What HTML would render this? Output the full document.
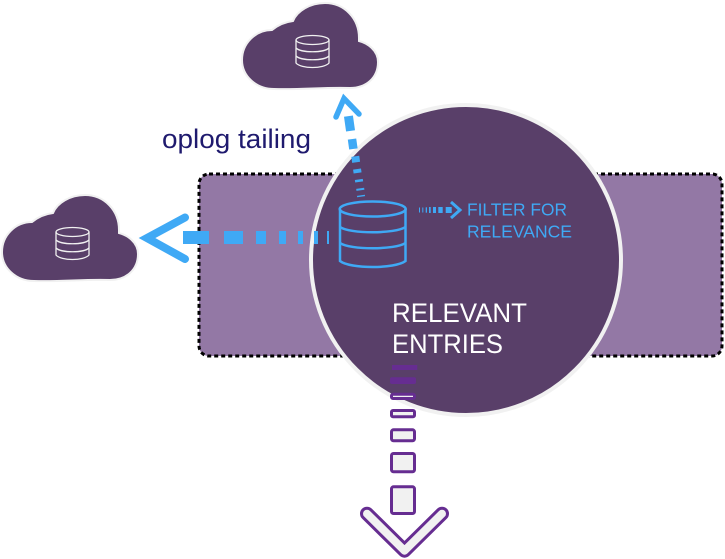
<!DOCTYPE html>
<html><head><meta charset="utf-8"><style>html,body{margin:0;padding:0;background:#fff}svg{display:block}text{font-family:"Liberation Sans",sans-serif}</style></head><body>
<svg width="725" height="559" viewBox="0 0 725 559" xmlns="http://www.w3.org/2000/svg">
<defs>
<g id="cloud">
<path d="M274,89 C256,89 242,76 242,60 C242,43.4 255.4,30 272,30 C278,25 285,22 293,21 C297,11 310,3 325,3 C344,3 359,18 359,38 L359,41 C367,43 378,50 378,62 C378,78 366,88 350,88 C325,87 300,90 274,89 Z" fill="#593f69" stroke="#f1f1f1" stroke-width="2"/>
<g fill="none" stroke="#f1f1f1" stroke-width="1.3">
<ellipse cx="312.5" cy="40" rx="16.5" ry="4.5"/>
<path d="M296,40 V63 C301,69 324,69 329,63 V40"/>
<path d="M296,48 C301,53 324,53 329,48"/>
<path d="M296,56 C301,61 324,61 329,56"/>
</g>
</g>
</defs>
<rect x="199" y="174" width="523" height="182" rx="10" fill="#9378a5" stroke="#000" stroke-width="3" stroke-dasharray="4 3"/>
<circle cx="466" cy="260" r="155" fill="#593f69" stroke="#f1f1f1" stroke-width="4"/>
<use href="#cloud"/>
<use href="#cloud" x="-240" y="192"/>
<text x="162" y="148" font-size="27" fill="#1f1a6e" textLength="149" lengthAdjust="spacingAndGlyphs">oplog tailing</text>
<g fill="#3fa9f5">
<rect x="183" y="231" width="26" height="13"/>
<rect x="224" y="231" width="19" height="13"/>
<rect x="256" y="231" width="10" height="13"/>
<rect x="279" y="231" width="7" height="13"/>
<rect x="298" y="231" width="5" height="13"/>
<rect x="314" y="231" width="4" height="13"/>
<rect x="327" y="231" width="2" height="13"/>
<rect x="-4.5" y="-7.5" width="9" height="15" transform="translate(349.5 123.5) rotate(-8)"/>
<rect x="-4.25" y="-5" width="8.5" height="10" transform="translate(352.7 144) rotate(-8)"/>
<rect x="-4" y="-3" width="8" height="6" transform="translate(355.7 159.3) rotate(-8)"/>
<rect x="-4" y="-2" width="8" height="4" transform="translate(357.3 171) rotate(-8)"/>
<rect x="-4" y="-1.25" width="8" height="2.5" transform="translate(359 180.7) rotate(-8)"/>
<rect x="-4" y="-1" width="8" height="2" transform="translate(360.3 189.3) rotate(-8)"/>
<rect x="-4" y="-0.75" width="8" height="1.5" transform="translate(361 196) rotate(-8)"/>
<rect x="419" y="207.5" width="1" height="5"/>
<rect x="422.3" y="207.5" width="1" height="5"/>
<rect x="425.7" y="207.3" width="1.3" height="5.4"/>
<rect x="429" y="207" width="1.7" height="6"/>
<rect x="433" y="207" width="3" height="6"/>
<rect x="438.3" y="207" width="4.4" height="6"/>
<rect x="445.7" y="207" width="6" height="6"/>
</g>
<polyline points="185,217.5 147,238 185,259" fill="none" stroke="#3fa9f5" stroke-width="8" stroke-linecap="round" stroke-linejoin="miter"/>
<polyline points="336,117 344,98.5 359,114" fill="none" stroke="#3fa9f5" stroke-width="5.5" stroke-linecap="round"/>
<polyline points="451,202 460,210 451,218" fill="none" stroke="#3fa9f5" stroke-width="3"/>
<g fill="none" stroke="#3fa9f5" stroke-width="2.5">
<ellipse cx="372.7" cy="209" rx="33" ry="7.5"/>
<path d="M340,209 V261 C350,269 395,269 405.5,261 V209"/>
<path d="M340,227 C350,234 395,234 405.5,227"/>
<path d="M340,243 C350,250 395,250 405.5,243"/>
</g>
<text x="467" y="215.5" font-size="17.5" fill="#3fa9f5" textLength="100" lengthAdjust="spacingAndGlyphs">FILTER FOR</text>
<text x="467" y="237.5" font-size="17.5" fill="#3fa9f5" textLength="105" lengthAdjust="spacingAndGlyphs">RELEVANCE</text>
<text x="392" y="322" font-size="27" fill="#fff" textLength="135" lengthAdjust="spacingAndGlyphs">RELEVANT</text>
<text x="392" y="353" font-size="27" fill="#fff" textLength="111" lengthAdjust="spacingAndGlyphs">ENTRIES</text>
<g fill="#f1f1f1" stroke="#662d91" stroke-width="3">
<rect x="392" y="365" width="25.3" height="5" fill="#662d91" stroke="none"/>
<rect x="390" y="377.3" width="26" height="6.7" rx="2" fill="#662d91" stroke="none"/>
<rect x="391.5" y="394.2" width="23" height="4.3" rx="1.5"/>
<rect x="391.5" y="410.5" width="23" height="6.3" rx="1.5"/>
<rect x="391.5" y="429.8" width="23" height="11" rx="2"/>
<rect x="391.5" y="453.5" width="23" height="18.3" rx="2"/>
<rect x="391.5" y="486.8" width="23" height="26.7" rx="2"/>
</g>
<polyline points="367,513.7 404.5,550.7 442,513.7" fill="none" stroke="#662d91" stroke-width="14" stroke-linecap="round" stroke-linejoin="round"/>
<polyline points="367,513.7 404.5,550.7 442,513.7" fill="none" stroke="#f1f1f1" stroke-width="8" stroke-linecap="round" stroke-linejoin="round"/>
</svg>
</body></html>
